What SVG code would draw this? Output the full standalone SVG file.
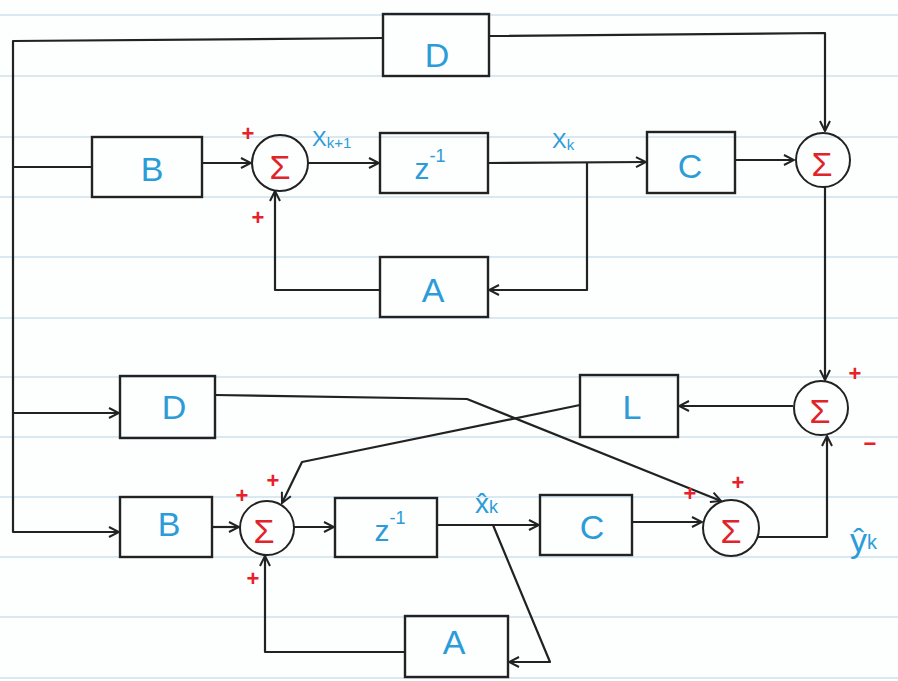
<svg xmlns="http://www.w3.org/2000/svg" width="898" height="681" viewBox="0 0 898 681">
  <defs>
    <style>
      .paper { fill: #fdfefe; }
      .rule { stroke: #d9e8f1; stroke-width: 2; }
      .box { fill: none; stroke: #222; stroke-width: 2.4; }
      .sum { fill: none; stroke: #222; stroke-width: 2; }
      .wire { fill: none; stroke: #222; stroke-width: 2.2; stroke-linejoin: round; }
      .arrow { marker-end: url(#open-arrow); }
      .blk { font-family: "Liberation Sans", "DejaVu Sans", sans-serif; fill: #2b9cd8; text-anchor: middle; dominant-baseline: central; }
      .big { font-size: 34px; }
      .sig { font-family: "Liberation Sans", "DejaVu Sans", sans-serif; fill: #e0242c; font-size: 34px; text-anchor: middle; dominant-baseline: central; }
      .sign { font-family: "Liberation Sans", "DejaVu Sans", sans-serif; fill: #e8202a; font-size: 22px; font-weight: bold; text-anchor: middle; dominant-baseline: central; }
      .lbl { font-family: "Liberation Sans", "DejaVu Sans", sans-serif; fill: #2b9cd8; }
    </style>
    <marker id="open-arrow" viewBox="0 0 12 12" refX="11" refY="6" markerWidth="12" markerHeight="12" markerUnits="userSpaceOnUse" orient="auto">
      <path d="M1,1 L11,6 L1,11" fill="none" stroke="#222" stroke-width="2"/>
    </marker>
  </defs>

  <!-- notebook paper -->
  <rect class="paper" x="0" y="0" width="898" height="681"/>
  <g id="paper-rules">
    <line class="rule" x1="0" y1="15" x2="898" y2="15"/>
    <line class="rule" x1="0" y1="76" x2="898" y2="76"/>
    <line class="rule" x1="0" y1="137" x2="898" y2="137"/>
    <line class="rule" x1="0" y1="197" x2="898" y2="197"/>
    <line class="rule" x1="0" y1="257" x2="898" y2="257"/>
    <line class="rule" x1="0" y1="318" x2="898" y2="318"/>
    <line class="rule" x1="0" y1="377" x2="898" y2="377"/>
    <line class="rule" x1="0" y1="437" x2="898" y2="437"/>
    <line class="rule" x1="0" y1="497" x2="898" y2="497"/>
    <line class="rule" x1="0" y1="557" x2="898" y2="557"/>
    <line class="rule" x1="0" y1="617" x2="898" y2="617"/>
    <line class="rule" x1="0" y1="678" x2="898" y2="678"/>
  </g>

  <!-- signal paths -->
  <g id="connectors">
    <!-- input trunk -->
    <path class="wire arrow" d="M383,38 L13,41 L13,532 L119,532"/>
    <path class="wire" d="M13,167 L92,167"/>
    <path class="wire arrow" d="M13,413 L119,413"/>
    <!-- plant -->
    <path class="wire arrow" d="M489,36 L825,33 L825,131"/>
    <path class="wire arrow" d="M202,163 L251,163"/>
    <path class="wire arrow" d="M308,163 L379,163"/>
    <path class="wire arrow" d="M488,163 L646,162"/>
    <path class="wire arrow" d="M587,163 L587,290 L489,290"/>
    <path class="wire arrow" d="M380,290 L275,290 L275,191"/>
    <path class="wire arrow" d="M735,160 L794,160"/>
    <path class="wire arrow" d="M825,187 L825,380"/>
    <!-- observer -->
    <path class="wire arrow" d="M793,406 L679,406"/>
    <path class="wire arrow" d="M580,405 L302,462 L282,503"/>
    <path class="wire arrow" d="M215,395 L467,399 L721,501"/>
    <path class="wire arrow" d="M758,537 L827,537 L827,436"/>
    <path class="wire arrow" d="M632,522 L702,522"/>
    <path class="wire arrow" d="M437,525 L539,525"/>
    <path class="wire arrow" d="M493,525 L550,662 L509,662"/>
    <path class="wire arrow" d="M405,652 L265,652 L265,556"/>
    <path class="wire arrow" d="M212,527 L239,527"/>
    <path class="wire arrow" d="M294,527 L334,527"/>
  </g>

  <!-- plant blocks -->
  <g id="D-top">
    <rect class="box" x="383" y="14" width="106" height="62"/>
    <text class="blk big" x="437" y="55">D</text>
  </g>
  <g id="B-top">
    <rect class="box" x="92" y="137" width="110" height="60"/>
    <text class="blk big" x="152" y="169">B</text>
  </g>
  <g id="sum-state">
    <circle class="sum" cx="280" cy="163" r="28"/>
    <text class="sig" x="280" y="167">Σ</text>
    <text class="sign" x="248" y="133">+</text>
    <text class="sign" x="258" y="217">+</text>
  </g>
  <g id="delay-top">
    <rect class="box" x="380" y="133" width="108" height="60"/>
    <text class="blk" x="430" y="168"><tspan style="font-size:30px">z</tspan><tspan style="font-size:18px" dy="-12">-1</tspan></text>
  </g>
  <g id="A-top">
    <rect class="box" x="380" y="257" width="108" height="60"/>
    <text class="blk big" x="433" y="290">A</text>
  </g>
  <g id="C-top">
    <rect class="box" x="647" y="132" width="88" height="61"/>
    <text class="blk big" x="690" y="166">C</text>
  </g>
  <g id="sum-output">
    <circle class="sum" cx="823" cy="160" r="27"/>
    <text class="sig" x="822" y="164">Σ</text>
  </g>

  <!-- observer blocks -->
  <g id="sum-error">
    <circle class="sum" cx="821" cy="408" r="27"/>
    <text class="sig" x="820" y="411">Σ</text>
    <text class="sign" x="855" y="373">+</text>
    <text class="sign" x="870" y="443">−</text>
  </g>
  <g id="L-gain">
    <rect class="box" x="580" y="375" width="98" height="62"/>
    <text class="blk big" x="632" y="407">L</text>
  </g>
  <g id="D-obs">
    <rect class="box" x="120" y="376" width="95" height="62"/>
    <text class="blk big" x="174" y="407">D</text>
  </g>
  <g id="B-obs">
    <rect class="box" x="120" y="497" width="92" height="60"/>
    <text class="blk big" x="169" y="524">B</text>
  </g>
  <g id="sum-estimate">
    <circle class="sum" cx="267" cy="528" r="27"/>
    <text class="sig" x="264" y="531">Σ</text>
    <text class="sign" x="242" y="495">+</text>
    <text class="sign" x="273" y="480">+</text>
    <text class="sign" x="253" y="578">+</text>
  </g>
  <g id="delay-obs">
    <rect class="box" x="335" y="498" width="102" height="59"/>
    <text class="blk" x="390" y="530"><tspan style="font-size:30px">z</tspan><tspan style="font-size:18px" dy="-12">-1</tspan></text>
  </g>
  <g id="A-obs">
    <rect class="box" x="405" y="616" width="103" height="61"/>
    <text class="blk big" x="454" y="642">A</text>
  </g>
  <g id="C-obs">
    <rect class="box" x="540" y="495" width="92" height="60"/>
    <text class="blk big" x="592" y="527">C</text>
  </g>
  <g id="sum-estimate-out">
    <circle class="sum" cx="731" cy="528" r="28"/>
    <text class="sig" x="731" y="531">Σ</text>
    <text class="sign" x="690" y="493">+</text>
    <text class="sign" x="738" y="482">+</text>
  </g>

  <!-- signal names -->
  <g id="signal-labels">
    <text class="lbl" x="312" y="146" style="font-size:22px">X<tspan style="font-size:15px" dy="2">k+1</tspan></text>
    <text class="lbl" x="552" y="148" style="font-size:22px">X<tspan style="font-size:15px" dy="2">k</tspan></text>
    <text class="lbl" x="475" y="513" style="font-size:28px">x̂<tspan style="font-size:18px" dy="0">k</tspan></text>
    <text class="lbl" x="850" y="552" style="font-size:34px">ŷ<tspan style="font-size:20px" dy="-3">k</tspan></text>
  </g>
</svg>
